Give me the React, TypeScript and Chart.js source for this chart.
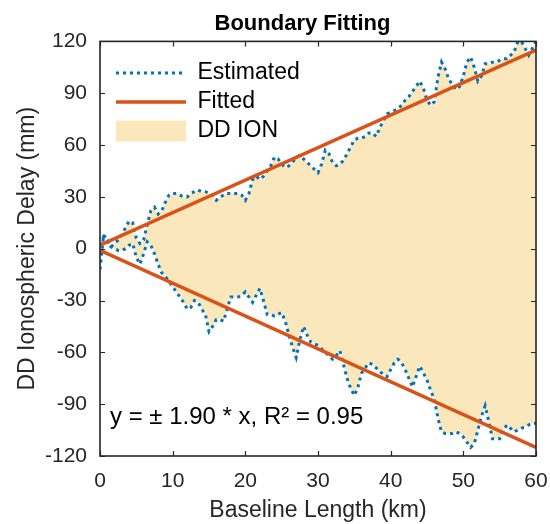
import React, { useEffect, useRef } from 'react';
import { Chart, registerables } from 'chart.js';

Chart.register(...registerables);

const FONT = "'Liberation Sans', Arial, Helvetica, sans-serif";

// Baseline length grid (km)
const baselineKm = [
  0, 0.5, 1, 1.5, 2, 2.5, 3, 3.5, 4, 4.5,
  5, 5.5, 6, 6.5, 7, 7.5, 8, 8.5, 9, 9.5,
  10, 10.5, 11, 11.5, 12, 12.5, 13, 13.5, 14, 14.5,
  15, 15.5, 16, 16.5, 17, 17.5, 18, 18.5, 19, 19.5,
  20, 20.5, 21, 21.5, 22, 22.5, 23, 23.5, 24, 24.5,
  25, 25.5, 26, 26.5, 27, 27.5, 28, 28.5, 29, 29.5,
  30, 30.5, 31, 31.5, 32, 32.5, 33, 33.5, 34, 34.5,
  35, 35.5, 36, 36.5, 37, 37.5, 38, 38.5, 39, 39.5,
  40, 40.5, 41, 41.5, 42, 42.5, 43, 43.5, 44, 44.5,
  45, 45.5, 46, 46.5, 47, 47.5, 48, 48.5, 49, 49.5,
  50, 50.5, 51, 51.5, 52, 52.5, 53, 53.5, 54, 54.5,
  55, 55.5, 56, 56.5, 57, 57.5, 58, 58.5, 59, 59.5,
  60,
];

// Estimated upper boundary (mm)
const estimatedUpper = [
  -12, 8, 5, 1, 3, 5, 8, 12, 16, 15,
  6, 3, 5, 14, 22, 24, 20, 22, 27, 31,
  32, 32, 31, 30, 30, 32, 33, 34, 33, 33,
  32, 31, 28, 30, 31, 32, 32, 32, 32, 31,
  28, 32, 40, 42, 40, 42, 45, 48, 53, 52,
  49, 47, 48, 50, 53, 54, 52, 50, 48, 46,
  44, 49, 57, 55, 50, 48, 49, 51, 55, 59,
  63, 64, 64, 65, 67, 67, 65, 70, 74, 78,
  79, 80, 81, 83, 86, 88, 91, 94, 97, 93,
  86, 83, 85, 99, 108, 104, 98, 95, 92, 94,
  100, 108, 111, 105, 97, 100, 107, 107, 108, 108,
  109, 110, 110, 112, 114, 120, 120, 116, 112, 116,
  120,
];

// Estimated lower boundary (mm)
const estimatedLower = [
  2, 7, 5, 1, 0, -1, -1, 0, 2, 3,
  -5, -9, -3, 4, 2, -3, -9, -14, -16, -19,
  -22, -25, -28, -31, -35, -34, -30, -31, -35, -38,
  -48, -45, -41, -41, -42, -35, -28, -28, -28, -27,
  -25, -28, -31, -27, -23, -30, -38, -38, -39, -38,
  -37, -42, -50, -57, -63, -53, -45, -50, -54, -55,
  -56, -58, -60, -62, -64, -62, -59, -67, -75, -81,
  -85, -80, -72, -69, -66, -67, -69, -71, -73, -74,
  -70, -66, -64, -66, -70, -75, -80, -74, -68, -72,
  -76, -82, -87, -98, -106, -107, -107, -107, -106, -107,
  -109, -112, -115, -113, -105, -97, -91, -100, -110, -110,
  -110, -105, -102, -104, -106, -105, -104, -103, -102, -101,
  -101,
];

// Fitted boundary lines
const fittedKm = [0, 60];
const fittedUpper = [2, 115];
const fittedLower = [-1, -115];

const xTickValues = [0, 10, 20, 30, 40, 50, 60];
const yTickValues = [-120, -90, -60, -30, 0, 30, 60, 90, 120];

const titleText = 'Boundary Fitting';
const xTitle = 'Baseline Length (km)';
const yTitle = 'DD Ionospheric Delay (mm)';
const legendLabels = ['Estimated', 'Fitted', 'DD ION'];
const equationText = 'y = \u00B1 1.90 * x, R\u00B2 = 0.95';

const BLUE = '#0072BD';
const ORANGE = '#D95319';
const FILL = 'rgba(237,177,32,0.3)';
const AXIS = '#262626';

function toPoints(xs: number[], ys: number[]) {
  return xs.map((x, i) => ({ x, y: ys[i] }));
}

export default function App() {
  const ref = useRef<HTMLCanvasElement>(null);

  useEffect(() => {
    if (!ref.current) return;

    const framePlugin = {
      id: 'frameAndText',
      afterLayout(chart: any) {
        const ca = chart.chartArea;
        if (chart.legend) {
          chart.legend.left = ca.left + 10;
          chart.legend.top = ca.top + 14;
        }
        if (chart.titleBlock) {
          chart.titleBlock.left = 55;
          chart.titleBlock.right = 550;
        }
      },
      afterDatasetsDraw(chart: any) {
        const { ctx, chartArea: ca, scales } = chart;
        const xs = scales.x;
        const ys = scales.y;
        ctx.save();
        ctx.strokeStyle = AXIS;
        ctx.lineWidth = 1.6;
        ctx.strokeRect(ca.left, ca.top, ca.right - ca.left, ca.bottom - ca.top);
        ctx.lineWidth = 1.2;
        ctx.beginPath();
        const tl = 5;
        xTickValues.forEach((v) => {
          const px = Math.round(xs.getPixelForValue(v)) + 0.5;
          ctx.moveTo(px, ca.bottom);
          ctx.lineTo(px, ca.bottom - tl);
          ctx.moveTo(px, ca.top);
          ctx.lineTo(px, ca.top + tl);
        });
        yTickValues.forEach((v) => {
          const py = Math.round(ys.getPixelForValue(v)) + 0.5;
          ctx.moveTo(ca.left, py);
          ctx.lineTo(ca.left + tl, py);
          ctx.moveTo(ca.right, py);
          ctx.lineTo(ca.right - tl, py);
        });
        ctx.stroke();
        ctx.restore();
      },
      afterDraw(chart: any) {
        const { ctx, chartArea: ca, scales } = chart;
        ctx.save();
        ctx.fillStyle = '#000';
        ctx.font = `24px ${FONT}`;
        ctx.textBaseline = 'middle';
        ctx.textAlign = 'left';
        ctx.fillText(equationText, ca.left + 10, scales.y.getPixelForValue(-97.5));
        ctx.restore();
      },
    };

    const chart = new Chart(ref.current, {
      type: 'line',
      data: {
        datasets: [
          {
            label: legendLabels[0],
            data: toPoints(baselineKm, estimatedUpper),
            borderColor: BLUE,
            borderWidth: 3,
            borderDash: [3, 4],
            pointRadius: 0,
            fill: false,
            order: 2,
            clip: 0,
          },
          {
            label: legendLabels[0] + ' lower',
            data: toPoints(baselineKm, estimatedLower),
            borderColor: BLUE,
            borderWidth: 3,
            borderDash: [3, 4],
            pointRadius: 0,
            fill: false,
            order: 2,
            clip: 0,
          },
          {
            label: legendLabels[1],
            data: toPoints(fittedKm, fittedUpper),
            borderColor: ORANGE,
            borderWidth: 3.5,
            pointRadius: 0,
            fill: false,
            order: 1,
            clip: 0,
          },
          {
            label: legendLabels[1] + ' lower',
            data: toPoints(fittedKm, fittedLower),
            borderColor: ORANGE,
            borderWidth: 3.5,
            pointRadius: 0,
            fill: false,
            order: 1,
            clip: 0,
          },
          {
            label: legendLabels[2],
            data: toPoints(baselineKm, estimatedUpper),
            borderColor: 'rgba(0,0,0,0)',
            borderWidth: 0,
            backgroundColor: FILL,
            pointRadius: 0,
            fill: 1,
            order: 5,
            clip: 0,
          },
        ],
      },
      options: {
        responsive: false,
        animation: false,
        layout: { padding: { left: 0, right: 14, top: 0, bottom: 0 } },
        plugins: {
          tooltip: { enabled: false },
          title: {
            display: true,
            text: titleText,
            color: '#000',
            font: { family: FONT, size: 22, weight: 'bold', lineHeight: 1.2 },
            padding: { top: 11, bottom: 4 },
          },
          legend: {
            display: true,
            position: 'chartArea' as any,
            align: 'start',
            labels: {
              usePointStyle: true,
              pointStyleWidth: 70,
              boxHeight: 21,
              padding: 6,
              color: '#000',
              font: { family: FONT, size: 23 },
              generateLabels: () => [
                {
                  text: legendLabels[0],
                  pointStyle: 'line',
                  strokeStyle: BLUE,
                  fillStyle: BLUE,
                  lineWidth: 3,
                  lineDash: [3, 4],
                  hidden: false,
                  datasetIndex: 0,
                  fontColor: '#000',
                },
                {
                  text: legendLabels[1],
                  pointStyle: 'line',
                  strokeStyle: ORANGE,
                  fillStyle: ORANGE,
                  lineWidth: 3.5,
                  hidden: false,
                  datasetIndex: 2,
                  fontColor: '#000',
                },
                {
                  text: legendLabels[2],
                  pointStyle: 'rect',
                  strokeStyle: 'rgba(0,0,0,0)',
                  fillStyle: FILL,
                  lineWidth: 0,
                  hidden: false,
                  datasetIndex: 4,
                  fontColor: '#000',
                },
              ] as any,
            },
          },
        },
        scales: {
          x: {
            type: 'linear',
            min: 0,
            max: 60,
            ticks: {
              stepSize: 10,
              padding: 13,
              color: AXIS,
              font: { family: FONT, size: 21 },
              maxRotation: 0,
            },
            grid: { display: false, drawTicks: false },
            border: { display: false },
            title: {
              display: true,
              text: xTitle,
              color: AXIS,
              font: { family: FONT, size: 23, lineHeight: 1.2 },
              padding: { top: 0, bottom: 0 },
            },
            afterFit: (scale: any) => {
              scale.height = 68;
              scale.paddingLeft = 0;
              scale.paddingRight = 0;
            },
          },
          y: {
            type: 'linear',
            min: -120,
            max: 120,
            ticks: {
              stepSize: 30,
              padding: 13,
              color: AXIS,
              font: { family: FONT, size: 21 },
            },
            grid: { display: false, drawTicks: false },
            border: { display: false },
            title: {
              display: true,
              text: yTitle,
              color: AXIS,
              font: { family: FONT, size: 23, lineHeight: 1.2 },
              padding: { top: 14, bottom: 0 },
            },
            afterFit: (scale: any) => {
              scale.width = 100;
              scale.paddingTop = 0;
              scale.paddingBottom = 0;
            },
          },
        },
      },
      plugins: [framePlugin],
    });

    return () => chart.destroy();
  }, []);

  return (
    <div style={{ position: 'absolute', left: 0, top: 0, width: 550, height: 524, background: '#fff' }}>
      <canvas ref={ref} width={550} height={524} style={{ display: 'block' }} />
    </div>
  );
}
